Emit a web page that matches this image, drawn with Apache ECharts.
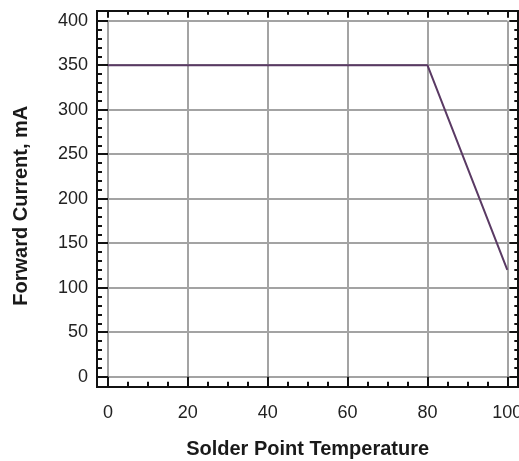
<!DOCTYPE html>
<html>
<head>
<meta charset="utf-8">
<script src="https://cdn.jsdelivr.net/npm/echarts@6/dist/echarts.min.js"></script>
<style>
html,body{margin:0;padding:0;background:#fff;}
#c{width:519px;height:461px;}
</style>
</head>
<body>
<div id="c"></div>
<script>
const temps = [0, 80, 100];
const currents = [350, 350, 120];
const xTitle = 'Solder Point Temperature';
const yTitle = 'Forward Current, mA';

const chart = echarts.init(document.getElementById('c'), null, {renderer: 'canvas'});
const font = 'Liberation Sans, Arial, sans-serif';
const gridLine = {show: true, lineStyle: {color: '#a3a3a3', width: 2}};
const tickStyle = {color: '#111', width: 2};
const hiddenAxis = {show: false};
const noLine = {show: false, onZero: false};

chart.setOption({
  animation: false,
  grid: [
    {left: 108, right: 11.7, top: 20.7, bottom: 84.3, containLabel: false, outerBoundsMode: 'none'},
    {left: 97, right: 1, top: 11, bottom: 74, outerBoundsMode: 'none', show: true, borderColor: '#111', borderWidth: 2, backgroundColor: 'transparent', z: 10}
  ],
  xAxis: [
    {
      gridIndex: 0, type: 'value', min: 0, max: 100, interval: 20, position: 'bottom', offset: 10,
      axisLine: noLine,
      axisTick: {show: true, inside: true, length: 10, lineStyle: tickStyle},
      minorTick: {show: true, splitNumber: 4, length: 5, lineStyle: tickStyle},
      splitLine: gridLine,
      axisLabel: {show: true, margin: 17, fontSize: 18, fontFamily: font, color: '#222', hideOverlap: false},
      name: xTitle, nameLocation: 'middle', nameGap: 53,
      nameTextStyle: {fontSize: 20, fontWeight: 'bold', fontFamily: font, color: '#1a1a1a'}
    },
    {
      gridIndex: 0, type: 'value', min: 0, max: 100, interval: 20, position: 'top', offset: 10,
      axisLine: noLine,
      axisTick: {show: true, inside: true, length: 7, lineStyle: tickStyle},
      minorTick: {show: true, splitNumber: 4, length: 4, lineStyle: tickStyle},
      splitLine: {show: false},
      axisLabel: {show: false}
    },
    Object.assign({gridIndex: 1, type: 'value', min: -2.75, max: 102.75}, hiddenAxis)
  ],
  yAxis: [
    {
      gridIndex: 0, type: 'value', min: 0, max: 400, interval: 50, position: 'left', offset: 11,
      axisLine: noLine,
      axisTick: {show: true, inside: true, length: 11, lineStyle: tickStyle},
      minorTick: {show: true, splitNumber: 5, length: 5, lineStyle: tickStyle},
      splitLine: gridLine,
      axisLabel: {show: true, margin: 9, fontSize: 18, fontFamily: font, color: '#222'},
      name: yTitle, nameLocation: 'middle', nameGap: 66, nameRotate: 90,
      nameTextStyle: {fontSize: 20, fontWeight: 'bold', fontFamily: font, color: '#1a1a1a', padding: [0, 14, 0, 0]}
    },
    {
      gridIndex: 0, type: 'value', min: 0, max: 400, interval: 50, position: 'right', offset: 11,
      axisLine: noLine,
      axisTick: {show: true, inside: true, length: 9, lineStyle: tickStyle},
      minorTick: {show: true, splitNumber: 5, length: 4, lineStyle: tickStyle},
      splitLine: {show: false},
      axisLabel: {show: false}
    },
    Object.assign({gridIndex: 1, type: 'value', min: -11, max: 411}, hiddenAxis)
  ],
  series: [{
    type: 'line',
    xAxisIndex: 0, yAxisIndex: 0,
    data: temps.map((t, i) => [t, currents[i]]),
    showSymbol: false,
    lineStyle: {color: '#5a3a64', width: 2},
    clip: false
  }]
});
</script>
</body>
</html>
